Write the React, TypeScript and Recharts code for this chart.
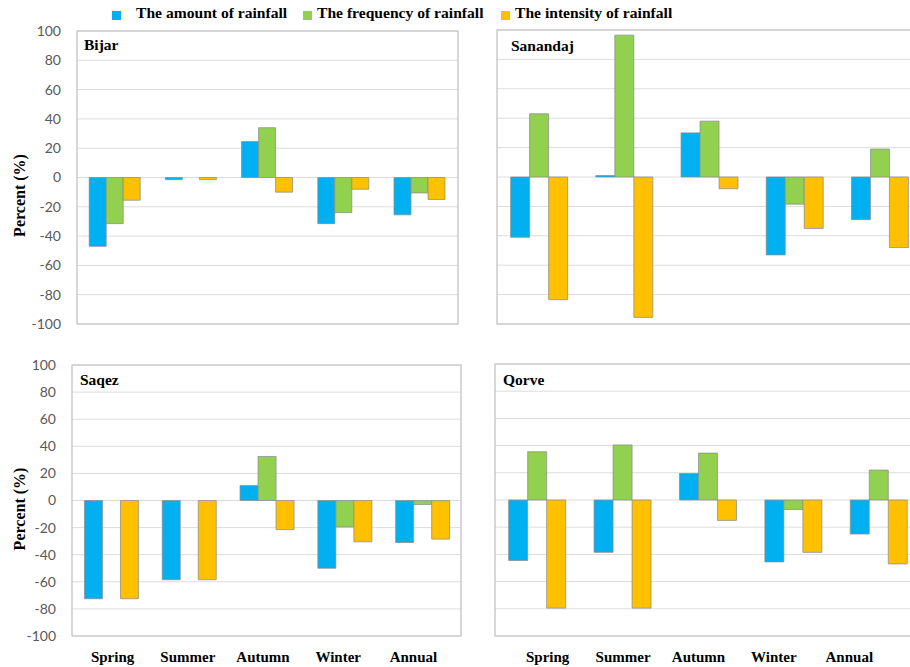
import React from 'react';
import { BarChart, Bar, XAxis, YAxis, CartesianGrid, ReferenceArea } from 'recharts';

const categories = ['Spring', 'Summer', 'Autumn', 'Winter', 'Annual'];
const seriesKeys = ['amount', 'frequency', 'intensity'];
const seriesNames = ['The amount of rainfall', 'The frequency of rainfall', 'The intensity of rainfall'];
const seriesColors = ['#00B0F0', '#92D050', '#FFC000'];
const yTicks = [-100, -80, -60, -40, -20, 0, 20, 40, 60, 80, 100];

const bijarAmount = [-47, -1.5, 24.5, -31.5, -25.5];
const bijarFrequency = [-31.5, 0, 34, -24, -10.5];
const bijarIntensity = [-15.5, -1.5, -10, -8, -15];

const sanandajAmount = [-41, 1, 30, -53, -29];
const sanandajFrequency = [43, 96.5, 38, -18.5, 19];
const sanandajIntensity = [-83.5, -95.5, -8, -35, -48];

const saqezAmount = [-72.5, -58.5, 11, -50, -31];
const saqezFrequency = [0, 0, 32.5, -19.5, -3];
const saqezIntensity = [-72.5, -58.5, -21.5, -30.5, -28.5];

const qorveAmount = [-44.5, -38.5, 19.5, -45.5, -25];
const qorveFrequency = [35.5, 40.5, 34.5, -7, 22];
const qorveIntensity = [-79.5, -79.5, -15, -38.5, -47];

const buildData = (a: number[], f: number[], n: number[]) =>
  categories.map((c, i) => ({ category: c, amount: a[i], frequency: f[i], intensity: n[i] }));

const SERIF = '"Liberation Serif", "Times New Roman", serif';
const SANS = 'Lato, "Liberation Sans", sans-serif';

const YLabel = (props: any) => {
  const { viewBox, dy } = props;
  const x = viewBox.x + 19;
  const y = viewBox.y + viewBox.height / 2 + dy;
  return (
    <text
      x={x}
      y={y}
      transform={`rotate(-90 ${x} ${y})`}
      textAnchor="middle"
      dominantBaseline="central"
      fontFamily={SERIF}
      fontWeight="bold"
      fontSize={16}
      fill="#000"
    >
      Percent (%)
    </text>
  );
};

const PanelTitle = (props: any) => {
  const { viewBox, text, dx, dy } = props;
  return (
    <text x={viewBox.x + dx} y={viewBox.y + dy} fontFamily={SERIF} fontWeight="bold" fontSize={15.5} fill="#000">
      {text}
    </text>
  );
};

type PanelProps = {
  name: string;
  data: any[];
  left: number;
  top: number;
  width: number;
  height: number;
  margin: { top: number; right: number; bottom: number; left: number };
  yAxisWidth?: number;
  labelDy?: number;
  showLabels?: boolean;
  labelPadding?: { left: number; right: number };
  titleDx: number;
  titleDy: number;
};

const Panel = (p: PanelProps) => (
  <div style={{ position: 'absolute', left: p.left, top: p.top }}>
    <BarChart
      width={p.width}
      height={p.height}
      data={p.data}
      margin={p.margin}
      barCategoryGap="16%"
      barGap={0}
    >
      <CartesianGrid vertical={false} stroke="#DCDCDC" />
      <XAxis dataKey="category" hide height={0} />
      {p.showLabels && (
        <XAxis
          xAxisId="labels"
          dataKey="category"
          axisLine={false}
          tickLine={false}
          tickSize={0}
          tickMargin={15}
          height={31}
          interval={0}
          padding={p.labelPadding}
          tick={{ fontFamily: SERIF, fontWeight: 'bold', fontSize: 15, fill: '#000' }}
        />
      )}
      <YAxis
        domain={[-100, 100]}
        ticks={yTicks}
        interval={0}
        allowDataOverflow
        hide={!p.yAxisWidth}
        width={p.yAxisWidth || 0}
        axisLine={false}
        tickLine={false}
        tickSize={0}
        tickMargin={16}
        tick={{ fontFamily: SANS, fontSize: 14, fill: '#595959' }}
        label={p.yAxisWidth ? <YLabel dy={p.labelDy || 0} /> : undefined}
      />
      <ReferenceArea
        x1="Spring"
        x2="Annual"
        y1={-100}
        y2={100}
        fill="none"
        fillOpacity={0}
        stroke="#BEBEBE"
        strokeWidth={1.2}
        label={<PanelTitle text={p.name} dx={p.titleDx} dy={p.titleDy} />}
      />
      {seriesKeys.map((k, i) => (
        <Bar
          key={k}
          dataKey={k}
          name={seriesNames[i]}
          fill={seriesColors[i]}
          stroke="#8C8C8C"
          strokeWidth={0.75}
          isAnimationActive={false}
        />
      ))}
    </BarChart>
  </div>
);

const Legend = () => {
  const squares = [112, 303, 501];
  const texts = [136, 317, 515];
  return (
    <div style={{ position: 'absolute', left: 0, top: 0, width: 910, height: 30 }}>
      {seriesNames.map((n, i) => (
        <React.Fragment key={n}>
          <div
            style={{
              position: 'absolute',
              left: squares[i],
              top: 11,
              width: 9,
              height: 9,
              background: seriesColors[i],
            }}
          />
          <div
            style={{
              position: 'absolute',
              left: texts[i],
              top: 4,
              fontFamily: SERIF,
              fontWeight: 'bold',
              fontSize: 15.6,
              color: '#000',
              whiteSpace: 'nowrap',
              lineHeight: '18px',
            }}
          >
            {n}
          </div>
        </React.Fragment>
      ))}
    </div>
  );
};

export default function App() {
  return (
    <div
      style={{
        position: 'fixed',
        left: 0,
        top: 0,
        width: 910,
        height: 667,
        overflow: 'hidden',
        background: '#fff',
      }}
    >
      <Panel
        name="Bijar"
        data={buildData(bijarAmount, bijarFrequency, bijarIntensity)}
        left={0}
        top={0}
        width={470}
        height={340}
        margin={{ top: 31, right: 12, bottom: 16, left: 0 }}
        yAxisWidth={77}
        labelDy={18}
        titleDx={7}
        titleDy={19}
      />
      <Panel
        name="Sanandaj"
        data={buildData(sanandajAmount, sanandajFrequency, sanandajIntensity)}
        left={480}
        top={0}
        width={450}
        height={340}
        margin={{ top: 30, right: 7, bottom: 16, left: 17 }}
        titleDx={14}
        titleDy={20.5}
      />
      <Panel
        name="Saqez"
        data={buildData(saqezAmount, saqezFrequency, saqezIntensity)}
        left={0}
        top={340}
        width={470}
        height={327}
        margin={{ top: 25, right: 9, bottom: 0, left: 0 }}
        yAxisWidth={72}
        labelDy={8.5}
        showLabels
        labelPadding={{ left: 3, right: 10 }}
        titleDx={8}
        titleDy={20}
      />
      <Panel
        name="Qorve"
        data={buildData(qorveAmount, qorveFrequency, qorveIntensity)}
        left={480}
        top={340}
        width={450}
        height={327}
        margin={{ top: 24, right: 8, bottom: 0, left: 15 }}
        showLabels
        labelPadding={{ left: 15, right: 35 }}
        titleDx={8}
        titleDy={21}
      />
      <Legend />
    </div>
  );
}
